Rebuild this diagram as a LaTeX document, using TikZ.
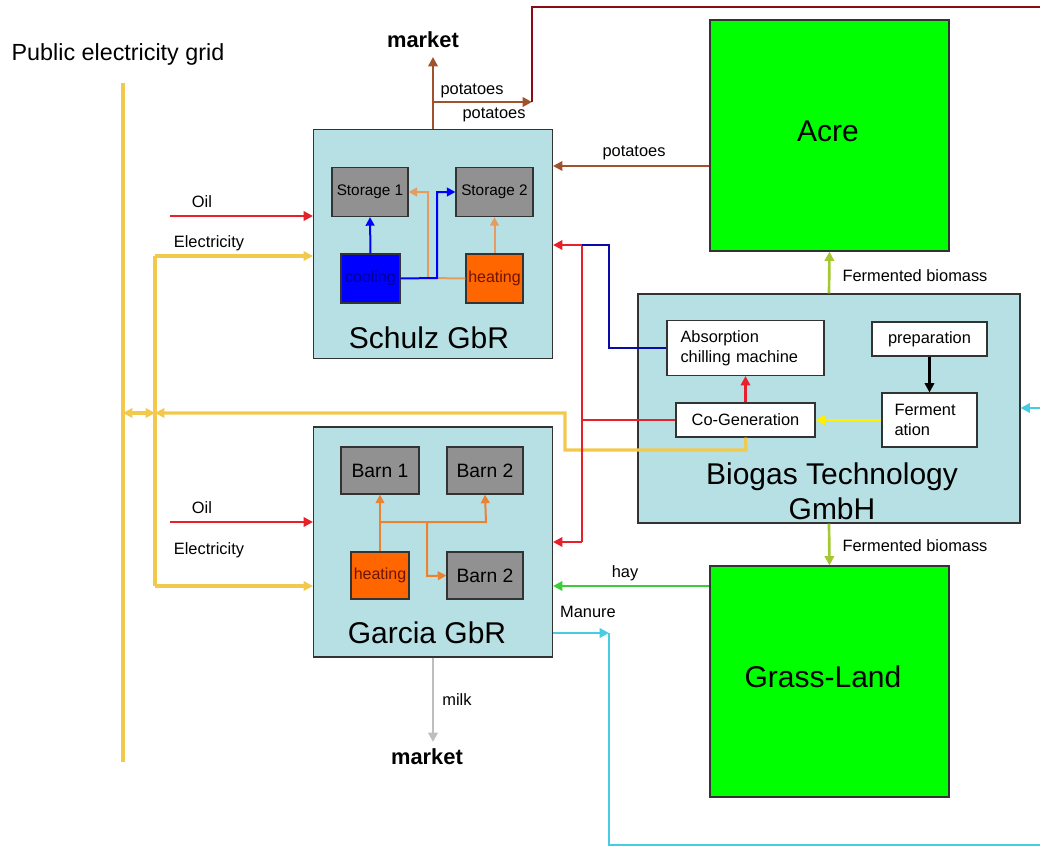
\documentclass[tikz,border=0pt]{standalone}
\usepackage{fontspec}
\setmainfont{Liberation Sans}
\usetikzlibrary{arrows.meta}
\definecolor{panel}{RGB}{183,224,229}
\definecolor{boxgray}{RGB}{145,145,145}
\definecolor{fieldgreen}{RGB}{0,255,0}
\definecolor{coolblue}{RGB}{0,0,255}
\definecolor{heatorange}{RGB}{255,102,0}
\definecolor{elecyellow}{RGB}{242,201,76}
\definecolor{gasyellow}{RGB}{255,240,0}
\definecolor{heatred}{RGB}{232,32,42}
\definecolor{potbrown}{RGB}{160,82,45}
\definecolor{maroonline}{RGB}{140,10,20}
\definecolor{chillblue}{RGB}{10,10,170}
\definecolor{ferment}{RGB}{165,200,50}
\definecolor{haygreen}{RGB}{60,205,60}
\definecolor{manurecyan}{RGB}{70,205,225}
\definecolor{lightorange}{RGB}{230,155,95}
\definecolor{barnorange}{RGB}{235,130,50}
\definecolor{milkgray}{RGB}{190,190,190}
\tikzset{
  sz/.style 2 args={minimum width=#1*0.75pt, minimum height=#2*0.75pt},
  panelbox/.style={draw=black!80, line width=0.8pt, fill=panel, inner sep=0pt},
  graybox/.style={draw=black!80, line width=0.8pt, fill=boxgray, inner sep=0pt, font=\fontsize{11.5}{14}\selectfont},
  barnbox/.style={graybox, font=\fontsize{14.5}{16}\selectfont},
  fieldbox/.style={draw=black!80, line width=0.8pt, fill=fieldgreen, inner sep=0pt, font=\fontsize{22.5}{26}\selectfont},
  whitebox/.style={draw=black!80, line width=0.8pt, fill=white, inner sep=0pt, font=\fontsize{12.3}{15}\selectfont},
  title/.style={font=\fontsize{22.5}{26}\selectfont, align=center, inner sep=0pt},
  lbl/.style={font=\fontsize{12.3}{14}\selectfont, inner sep=0pt},
  mkt/.style={font=\fontsize{16.4}{18}\bfseries, inner sep=0pt},
  flow/.style={line width=2pt, -{Triangle[length=7pt,width=7pt]}},
  thin flow/.style={line width=1.5pt, -{Triangle[length=6.5pt,width=6.5pt]}},
  plain/.style={line width=2pt},
}
\begin{document}
\begin{tikzpicture}[x=0.75pt,y=-0.75pt]
\useasboundingbox (0,0) rectangle (1040,847);
% ---------- boxes ----------
\node[panelbox, sz={239}{229}] (schulz) at (433,244) {};
\node[title] (schulzT) at (429,338) {Schulz GbR};
\node[graybox, sz={76}{49}] (st1) at (370,192) {Storage 1};
\node[graybox, sz={77}{49}] (st2) at (494.5,192) {Storage 2};
\node[draw=black!80, line width=0.8pt, fill=coolblue, sz={59}{49}, inner sep=0pt, font=\fontsize{12}{14}\selectfont, text={rgb,255:red,0;green,0;blue,150}] (cool) at (370.5,278.5) {cooling};
\node[draw=black!80, line width=0.8pt, fill=heatorange, sz={57}{49}, inner sep=0pt, font=\fontsize{12}{14}\selectfont, text={rgb,255:red,110;green,20;blue,0}] (heatS) at (494.5,278.5) {heating};

\node[panelbox, sz={239}{230}] (garcia) at (433,542) {};
\node[title] (garciaT) at (427,633) {Garcia GbR};
\node[barnbox, sz={78}{47}] (barn1) at (380,470.5) {Barn 1};
\node[barnbox, sz={76}{47}] (barn2) at (485,470.5) {Barn 2};
\node[draw=black!80, line width=0.8pt, fill=heatorange, sz={58}{47}, inner sep=0pt, font=\fontsize{12}{14}\selectfont, text={rgb,255:red,110;green,20;blue,0}] (heatG) at (380,575.5) {heating};
\node[barnbox, sz={76}{47}] (barn3) at (485,575.5) {Barn 2};

\node[fieldbox, sz={239}{231}] (acre) at (829.5,135.5) {};
\node[font=\fontsize{22.5}{26}\selectfont, inner sep=0pt] (acreT) at (828,131) {Acre};
\node[fieldbox, sz={239}{231}] (grass) at (829.5,681.5) {};
\node[font=\fontsize{22.5}{26}\selectfont, inner sep=0pt] (grassT) at (823,677) {Grass-Land};

\node[panelbox, sz={382}{229}] (biogas) at (829,408.5) {};
\node[title] (biogasT) at (832,491) {Biogas Technology\\GmbH};
\node[whitebox, sz={157}{55}, align=left, text width=130*0.75pt] (absorb) at (745.5,348) {Absorption\\chilling machine};
\node[whitebox, sz={115}{34}] (prep) at (929.5,339) {preparation};
\node[whitebox, sz={95}{54}, align=left, text width=70*0.75pt] (ferm) at (929.5,420) {Ferment\\ation};
\node[whitebox, sz={139}{34}] (cogen) at (745.5,420) {Co-Generation};

% ---------- free texts ----------
\node[font=\fontsize{17.5}{20}\selectfont, inner sep=0pt] (grid) at (118,54) {Public electricity grid};
\node[mkt] (mktTop) at (423,40) {market};
\node[mkt] (mktBot) at (427,757) {market};

% ---------- coordinates ----------
\coordinate (gridTop) at (123,83);
\coordinate (gridBot) at (123,762);
\coordinate (busTop) at (155,256);
\coordinate (busBot) at (155,586);
\coordinate (oilS) at (170,216);
\coordinate (oilG) at (170,522);
\coordinate (gridJ) at (123,413);
\coordinate (busJ) at (155,413);
\coordinate (elecA) at (565,413);
\coordinate (elecB) at (565,450);
\coordinate (elecC) at (746,450);
\coordinate (potJ) at (433,102);
\coordinate (potE) at (532,102);
\coordinate (potT) at (532,7);
\coordinate (potR) at (1040,7);
\coordinate (redTop) at (582,245);
\coordinate (redBot) at (582,542);
\coordinate (redMid) at (582,420);
\coordinate (blueA) at (609,348);
\coordinate (blueB) at (609,245);
\coordinate (manJ) at (609,633);
\coordinate (manB) at (609,845);
\coordinate (manR) at (1040,845);
\coordinate (manIn) at (1040,408);
\coordinate (milkEnd) at (433,742);
\coordinate (mktTip) at (433,57);

% ---------- electricity ----------
\draw[plain, elecyellow, line width=2.4pt] (gridTop) -- (gridBot);
\draw[plain, elecyellow, line width=2.4pt] (busBot) -- (busTop);
\draw[flow, elecyellow, line width=2.4pt] (busTop) -- (busTop -| schulz.west);
\draw[flow, elecyellow, line width=2.4pt] (busBot) -- (busBot -| garcia.west);
\draw[flow, elecyellow, line width=2.4pt] (cogen.south) -- (elecC) -- (elecB) -- (elecA) -- (busJ);
\draw[elecyellow, line width=2.4pt, {Triangle[length=7pt,width=7pt]}-{Triangle[length=7pt,width=7pt]}] (gridJ) -- (busJ);
\node[lbl] (elecLS) at (209,243) {Electricity};
\node[lbl] (elecLG) at (209,550) {Electricity};

% ---------- oil ----------
\draw[flow, heatred] (oilS) -- (oilS -| schulz.west);
\draw[flow, heatred] (oilG) -- (oilG -| garcia.west);
\node[lbl] (oilLS) at (202,202) {Oil};
\node[lbl] (oilLG) at (202,508) {Oil};

% ---------- potatoes ----------
\draw[flow, potbrown] (schulz.north) -- (mktTip);
\draw[flow, potbrown] (potJ) -- (potE);
\draw[plain, maroonline] (potE) -- (potT) -- (potR);
\coordinate (potIn) at (640,166);
\draw[flow, potbrown] (potIn -| acre.west) -- (potIn -| schulz.east);
\node[lbl] (potL1) at (472,91) {potatoes};
\node[lbl] (potL2) at (494,115) {potatoes};
\node[lbl] (potL3) at (634,153) {potatoes};

% ---------- Schulz internals ----------
\draw[thin flow, coolblue] (cool.north) -- (st1.south);
\coordinate (sb1) at (437,278);
\coordinate (sb2) at (437,192);
\draw[thin flow, lightorange] (heatS.west) -- (428,278) -- (428,192) -- (st1.east);
\draw[thin flow, coolblue] (cool.east) -- (sb1) -- (sb2) -- (st2.west);
\draw[thin flow, lightorange] (heatS.north) -- (st2.south);

% ---------- Garcia internals ----------
\coordinate (gj1) at (380,522);
\coordinate (gj2) at (486,522);
\coordinate (gj3) at (427,522);
\coordinate (gj4) at (427,576);
\draw[thin flow, barnorange] (heatG.north) -- (barn1.south);
\draw[thin flow, barnorange] (gj1) -- (gj2) -- (barn2.south);
\draw[thin flow, barnorange] (gj3) -- (gj4) -- (barn3.west);

% ---------- heat / cold from biogas ----------
\draw[plain, heatred] (cogen.west) -- (redMid);
\draw[plain, heatred] (redTop) -- (redBot);
\draw[flow, heatred] (redTop) -- (redTop -| schulz.east);
\draw[flow, heatred] (redBot) -- (redBot -| garcia.east);
\draw[plain, chillblue] (absorb.west |- blueA) -- (blueA) -- (blueB) -- (redTop);
\draw[flow, heatred] (cogen.north) -- (absorb.south);
\draw[flow, black] (prep.south) -- (ferm.north);
\draw[flow, gasyellow] (ferm.west) -- (cogen.east);

% ---------- fermented biomass ----------
\draw[flow, ferment] (biogas.north) -- (acre.south);
\draw[flow, ferment] (biogas.south) -- (grass.north);
\node[lbl] (fbL1) at (915,276) {Fermented biomass};
\node[lbl] (fbL2) at (915,546) {Fermented biomass};

% ---------- hay / manure / milk ----------
\coordinate (hayY) at (640,586);
\draw[flow, haygreen] (hayY -| grass.west) -- (hayY -| garcia.east);
\node[lbl] (hayL) at (625,573) {hay};
\draw[flow, manurecyan] (garcia.east |- manJ) -- (manJ);
\draw[plain, manurecyan] (manJ) -- (manB) -- (manR);
\draw[flow, manurecyan] (manIn) -- (manIn -| biogas.east);
\node[lbl] (manL) at (588,612) {Manure};
\draw[flow, milkgray] (garcia.south) -- (milkEnd);
\node[lbl] (milkL) at (457,700) {milk};
\end{tikzpicture}
\end{document}
